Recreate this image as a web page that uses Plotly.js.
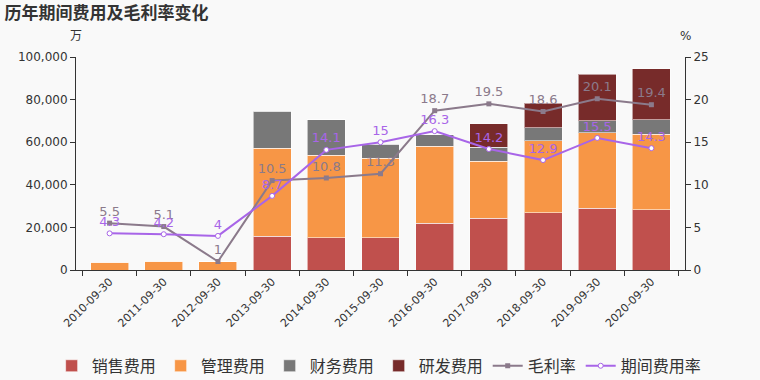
<!DOCTYPE html>
<html>
<head>
<meta charset="utf-8">
<script src="https://cdn.plot.ly/plotly-3.0.1.min.js"></script>
<style>html,body{margin:0;padding:0;background:#f9f9f9;}#chart{width:760px;height:380px;}</style>
</head>
<body>
<div id="chart"></div>
<script>
const categories = ["2010-09-30","2011-09-30","2012-09-30","2013-09-30","2014-09-30","2015-09-30","2016-09-30","2017-09-30","2018-09-30","2019-09-30","2020-09-30"];
const salesExp   = [0, 0, 0, 15800, 15100, 15100, 22000, 24200, 26800, 29000, 28400];
const mgmtExp    = [3700, 4200, 3900, 41400, 38700, 37300, 36200, 26800, 34000, 35500, 35400];
const finExp     = [0, 0, 0, 17300, 16700, 6600, 5400, 6700, 6100, 5600, 6700];
const rdExp      = [0, 0, 0, 0, 0, 0, 0, 11000, 11400, 21700, 23900];
const grossMargin = [5.5, 5.1, 1, 10.5, 10.8, 11.3, 18.7, 19.5, 18.6, 20.1, 19.4];
const expenseRate = [4.3, 4.2, 4, 8.7, 14.1, 15, 16.3, 14.2, 12.9, 15.5, 14.3];
const leftTicks = [0, 20000, 40000, 60000, 80000, 100000];
const rightTicks = [0, 5, 10, 15, 20, 25];

const FONT = "DejaVu Sans, Noto Sans CJK SC, sans-serif";
const barLine = {color: "rgba(255,255,255,0.55)", width: 1};

const traces = [
  {type: "bar", name: "销售费用", x: categories, y: salesExp, marker: {color: "#c0504d", line: barLine}},
  {type: "bar", name: "管理费用", x: categories, y: mgmtExp, marker: {color: "#f79646", line: barLine}},
  {type: "bar", name: "财务费用", x: categories, y: finExp, marker: {color: "#787878", line: barLine}},
  {type: "bar", name: "研发费用", x: categories, y: rdExp, marker: {color: "#772b2a", line: barLine}},
  {type: "scatter", mode: "lines+markers+text", name: "毛利率", x: categories, y: grossMargin, yaxis: "y2",
   line: {color: "#8b7a8b", width: 2}, marker: {symbol: "square", size: 5, color: "#8b7a8b"},
   text: grossMargin.map(String), textposition: "top center", textfont: {color: "#8b7a8b", size: 13, family: FONT}, cliponaxis: false},
  {type: "scatter", mode: "lines+markers+text", name: "期间费用率", x: categories, y: expenseRate, yaxis: "y2",
   line: {color: "#a865e8", width: 2}, marker: {symbol: "circle", size: 5, color: "#ffffff", line: {color: "#a865e8", width: 1}},
   text: expenseRate.map(String), textposition: "top center", textfont: {color: "#a865e8", size: 13, family: FONT}, cliponaxis: false}
];

const layout = {
  width: 760, height: 380,
  paper_bgcolor: "#f9f9f9", plot_bgcolor: "#f9f9f9",
  font: {family: FONT, color: "#333333", size: 12},
  margin: {l: 76, r: 75, t: 57, b: 110, autoexpand: false},
  barmode: "stack", bargap: 0.3,
  showlegend: true,
  title: {text: "历年期间费用及毛利率变化", x: 0.006, xanchor: "left", y: 0.965, yanchor: "middle",
          font: {size: 17, color: "#333333", family: FONT, weight: "bold"}},
  xaxis: {type: "category", showline: true, linecolor: "#333333", linewidth: 1, ticks: "outside", ticklen: 5,
          tickcolor: "#333333", tickson: "boundaries", tickangle: -45, tickfont: {size: 11, color: "#333333"},
          showgrid: false, zeroline: false},
  yaxis: {range: [0, 100000], tickvals: leftTicks, tickformat: ",d", showline: true, linecolor: "#333333",
          ticks: "outside", ticklen: 5, tickcolor: "#333333", showgrid: false, zeroline: false,
          tickfont: {size: 12, color: "#333333"}},
  yaxis2: {range: [0, 25], tickvals: rightTicks, overlaying: "y", side: "right", showline: true, linecolor: "#333333",
           ticks: "outside", ticklen: 5, tickcolor: "#333333", showgrid: false, zeroline: false,
           tickfont: {size: 12, color: "#333333"}},
  legend: {orientation: "h", x: -0.04, xanchor: "left", y: -0.45, yanchor: "middle",
           font: {size: 16, color: "#333333"}, traceorder: "normal", itemwidth: 30, bgcolor: "rgba(0,0,0,0)"},
  annotations: [
    {text: "万", xref: "paper", yref: "paper", x: 0, y: 1, xanchor: "center", yanchor: "bottom", yshift: 12,
     showarrow: false, font: {size: 12, color: "#333333"}},
    {text: "%", xref: "paper", yref: "paper", x: 1, y: 1, xanchor: "center", yanchor: "bottom", yshift: 12,
     showarrow: false, font: {size: 12, color: "#333333"}}
  ]
};

Plotly.newPlot("chart", traces, layout, {displayModeBar: false, staticPlot: true});
</script>
</body>
</html>
